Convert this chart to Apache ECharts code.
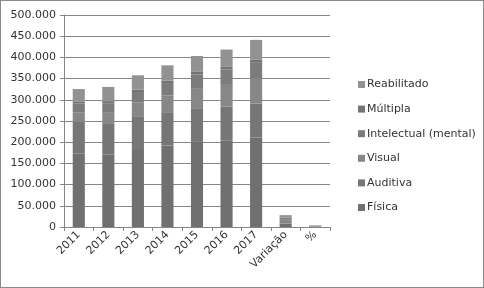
<!DOCTYPE html>
<html>
<head>
<meta charset="utf-8">
<script src="https://cdn.jsdelivr.net/npm/echarts@6/dist/echarts.min.js"></script>
<style>
  body { margin: 0; background: #fff; }
  #chart { position: absolute; left: 0; top: 0; width: 484px; height: 288px; }
  #frame { position: absolute; left: 0; top: 0; width: 482px; height: 286px; border: 1px solid #8a8a8a; pointer-events: none; }
</style>
</head>
<body>
<div id="chart"></div>
<div id="frame"></div>
<script>
const categories = ["2011", "2012", "2013", "2014", "2015", "2016", "2017", "Variação", "%"];

const fisica      = [174207, 170468, 181464, 192432, 200794, 204554, 211114, 8000, 1200];
const auditiva    = [73579, 74385, 78078, 78370, 79389, 79155, 79779, 1000, 300];
const visual      = [21847, 26119, 33505, 39580, 47445, 53573, 60095, 8000, 900];
const intelectual = [21317, 21000, 25332, 29132, 32144, 34168, 37864, 4500, 600];
const multipla    = [4144, 5000, 5490, 5490, 6032, 6176, 6488, 500, 200];
const reabilitado = [30197, 33324, 33928, 36318, 37451, 40895, 45999, 6000, 800];

const seriesDefs = [
  { name: "Física", data: fisica, color: "#707070" },
  { name: "Auditiva", data: auditiva, color: "#767676" },
  { name: "Visual", data: visual, color: "#878787" },
  { name: "Intelectual (mental)", data: intelectual, color: "#7c7c7c" },
  { name: "Múltipla", data: multipla, color: "#747474" },
  { name: "Reabilitado", data: reabilitado, color: "#929292" },
];

const chart = echarts.init(document.getElementById("chart"));

const fmt = (v) => String(v).replace(/\B(?=(\d{3})+(?!\d))/g, ".");

chart.setOption({
  animation: false,
  textStyle: { fontFamily: "DejaVu Sans" },
  grid: { left: 64, right: 154, top: 15, bottom: 61 },
  legend: {
    orient: "vertical",
    left: 353,
    top: 74,
    itemWidth: 7,
    itemHeight: 7,
    itemGap: 13.6,
    icon: "rect",
    data: seriesDefs.map((s) => s.name).reverse(),
    textStyle: { fontSize: 11, color: "#333", padding: [0, 0, 0, -3] },
  },
  xAxis: {
    type: "category",
    data: categories,
    axisLine: { lineStyle: { color: "#868686" } },
    axisTick: { show: true, length: 4, lineStyle: { color: "#868686" } },
    axisLabel: { rotate: 45, fontSize: 11, color: "#333", margin: 6, interval: 0 },
  },
  yAxis: {
    type: "value",
    min: 0,
    max: 500000,
    interval: 50000,
    axisLine: { show: true, lineStyle: { color: "#868686" } },
    axisTick: { show: true, length: 4, lineStyle: { color: "#868686" } },
    axisLabel: { fontSize: 11, color: "#333", margin: 8, formatter: fmt },
    splitLine: { lineStyle: { color: "#868686" } },
  },
  series: seriesDefs.map((s) => ({
    name: s.name,
    type: "bar",
    stack: "total",
    data: s.data,
    barWidth: "41%",
    itemStyle: { color: s.color },
  })),
});
</script>
</body>
</html>
